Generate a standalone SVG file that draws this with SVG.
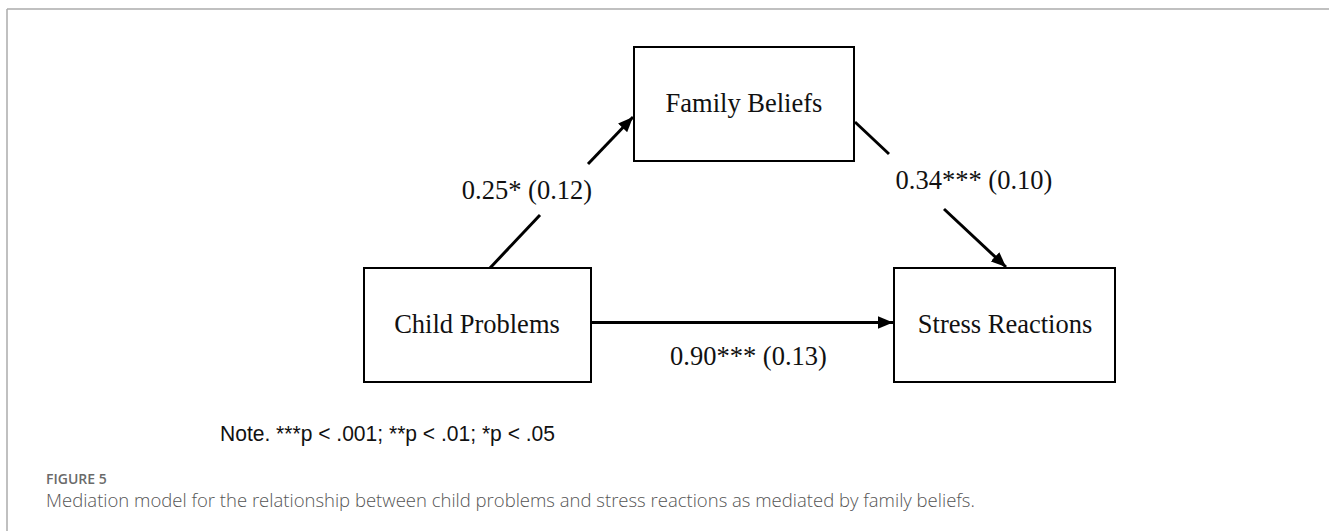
<svg xmlns="http://www.w3.org/2000/svg" width="1329" height="531" viewBox="0 0 1329 531">
  <style>
    .box { fill: #ffffff; stroke: #000000; stroke-width: 2; }
    .lbl { font-family: "Liberation Serif", "Times New Roman", serif; font-size: 26.5px; fill: #111111; text-anchor: middle; }
    .edge { stroke: #000000; stroke-width: 3; fill: none; }
    .frame { stroke: #ababab; stroke-width: 1.5; fill: none; }
    .note { font-family: "Liberation Sans", Arial, sans-serif; font-size: 21.5px; fill: #111111; }
    .fig { font-family: "Open Sans", "Liberation Sans", sans-serif; font-size: 14px; font-weight: 600; fill: #6a6a6a; }
    .cap { font-family: "Open Sans", "Liberation Sans", sans-serif; font-size: 18.5px; font-weight: 300; fill: #555555; }
  </style>
  <defs>
    <marker id="ah" markerWidth="5" markerHeight="4.2" refX="5" refY="2.1" orient="auto" markerUnits="strokeWidth">
      <path d="M0,0 L5,2.1 L0,4.2 Z" fill="#000000"/>
    </marker>
  </defs>
  <rect width="1329" height="531" fill="#ffffff"/>
  <g id="frame">
    <line class="frame" x1="7" y1="9" x2="1329" y2="9"/>
    <line class="frame" x1="7" y1="9" x2="7" y2="531"/>
  </g>
  <g id="connectors">
    <line class="edge" x1="490" y1="268" x2="540" y2="215"/>
    <line class="edge" x1="588" y1="164" x2="633" y2="117" marker-end="url(#ah)"/>
    <line class="edge" x1="855" y1="122" x2="889" y2="154"/>
    <line class="edge" x1="944" y1="209" x2="1006" y2="267" marker-end="url(#ah)"/>
    <line class="edge" x1="591" y1="322.5" x2="893" y2="322.5" marker-end="url(#ah)"/>
    <text class="lbl" x="527" y="199">0.25* (0.12)</text>
    <text class="lbl" x="974" y="189">0.34*** (0.10)</text>
    <text class="lbl" x="748.5" y="365">0.90*** (0.13)</text>
  </g>
  <g id="family-beliefs">
    <rect class="box" x="634" y="47" width="220" height="114"/>
    <text class="lbl" x="744" y="112">Family Beliefs</text>
  </g>
  <g id="child-problems">
    <rect class="box" x="364" y="268" width="227" height="114"/>
    <text class="lbl" x="477" y="333">Child Problems</text>
  </g>
  <g id="stress-reactions">
    <rect class="box" x="894" y="268" width="221" height="114"/>
    <text class="lbl" x="1005" y="333">Stress Reactions</text>
  </g>
  <g id="note">
    <text class="note" x="220" y="441" textLength="335" lengthAdjust="spacingAndGlyphs">Note. ***p &lt; .001; **p &lt; .01; *p &lt; .05</text>
  </g>
  <g id="caption">
    <text class="fig" x="46" y="484">FIGURE 5</text>
    <text class="cap" x="46" y="507">Mediation model for the relationship between child problems and stress reactions as mediated by family beliefs.</text>
  </g>
</svg>
